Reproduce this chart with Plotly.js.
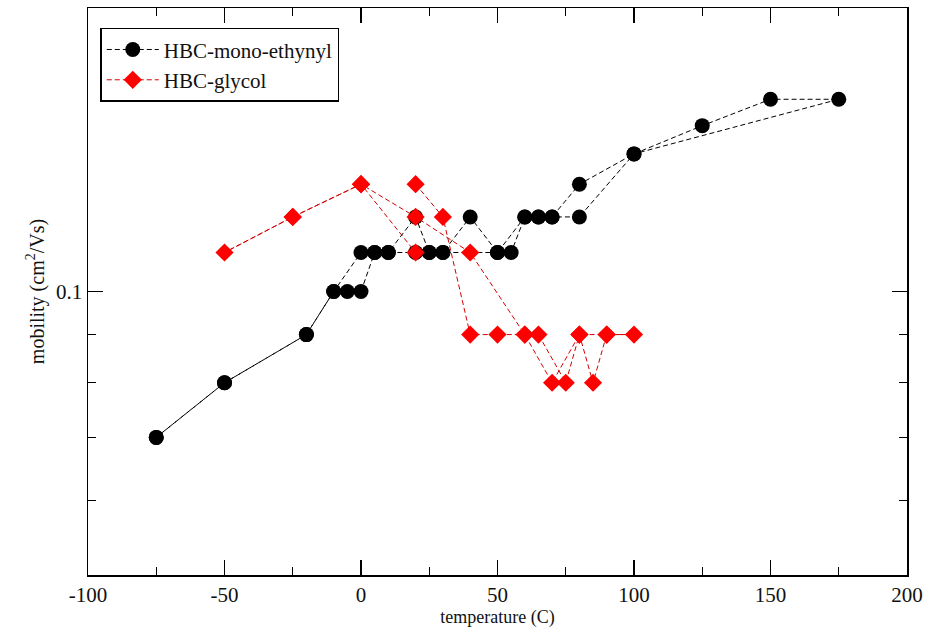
<!DOCTYPE html>
<html>
<head>
<meta charset="utf-8">
<script src="https://cdn.plot.ly/plotly-3.0.1.min.js"></script>
<style>
  html, body { margin: 0; padding: 0; background: #ffffff; }
  #chart { width: 931px; height: 632px; }
</style>
</head>
<body>
<div id="chart"></div>
<script>
// HBC-mono-ethynyl: temperature sweep (heating then cooling), temperature in C
const ethynylTemp = [-75, -50, -20, -10, 0, 5, 10, 20, 25, 30, 40, 50, 60, 65, 70, 80, 100, 125, 150, 175,
                     100, 80, 70, 65, 60, 55, 50, 30, 25, 20, 10, 5, 0, -5, -10, -20, -50, -75];
const ethynylMobility = [0.07, 0.08, 0.09, 0.10, 0.11, 0.11, 0.11, 0.12, 0.11, 0.11, 0.12, 0.11, 0.12, 0.12, 0.12, 0.13, 0.14, 0.15, 0.16, 0.16,
                         0.14, 0.12, 0.12, 0.12, 0.12, 0.11, 0.11, 0.11, 0.11, 0.11, 0.11, 0.11, 0.10, 0.10, 0.10, 0.09, 0.08, 0.07];

// HBC-glycol
const glycolTemp = [20, 30, 40, 50, 60, 65, 75, 80, 85, 90, 100, 90, 80, 70, 60, 40, 20, 0, -25, -50, -25, 0, 20];
const glycolMobility = [0.13, 0.12, 0.09, 0.09, 0.09, 0.09, 0.08, 0.09, 0.08, 0.09, 0.09, 0.09, 0.09, 0.08, 0.09, 0.11, 0.12, 0.13, 0.12, 0.11, 0.12, 0.13, 0.11];

const seriesNames = ['HBC-mono-ethynyl', 'HBC-glycol'];

const xTickVals = [-100, -50, 0, 50, 100, 150, 200];
const xTickLabels = ['-100', '-50', '0', '50', '100', '150', '200'];
const yMajorTicks = [0.1];
const yMajorLabels = ['0.1'];
const yMinorTicks = [0.06, 0.07, 0.08, 0.09];
const xRange = [-100, 200];
const yRange = [0.05, 0.2];

const serif = '"Liberation Serif", "Times New Roman", Times, serif';

const traces = [
  {
    x: ethynylTemp, y: ethynylMobility, name: seriesNames[0],
    type: 'scatter', mode: 'lines+markers',
    line: { color: '#000000', width: 1, dash: '5px,3px' },
    marker: { symbol: 'circle', size: 15, color: '#000000' }
  },
  {
    x: glycolTemp, y: glycolMobility, name: seriesNames[1],
    type: 'scatter', mode: 'lines+markers',
    line: { color: '#d40000', width: 1, dash: '5px,3px' },
    marker: { symbol: 'diamond', size: 14, color: '#ff0000' }
  }
];

const layout = {
  width: 931, height: 632,
  margin: { l: 88, r: 24, t: 8, b: 57 },
  paper_bgcolor: '#ffffff', plot_bgcolor: '#ffffff',
  showlegend: true,
  legend: {
    x: 0.015, y: 0.965, xanchor: 'left', yanchor: 'top',
    bordercolor: '#000000', borderwidth: 1.5, bgcolor: '#ffffff',
    font: { family: serif, size: 21, color: '#111111' },
    tracegroupgap: 0, itemwidth: 52
  },
  xaxis: {
    range: xRange, tickmode: 'array', tickvals: xTickVals, ticktext: xTickLabels,
    ticks: 'inside', ticklen: 15, tickwidth: 1.2, tickcolor: '#000000',
    minor: { ticks: 'inside', ticklen: 8, tickwidth: 1.2, dtick: 25, tick0: -100, tickcolor: '#000000', showgrid: false },
    showline: true, linecolor: '#000000', linewidth: 1.5, mirror: 'ticks',
    showgrid: false, zeroline: false,
    tickfont: { family: serif, size: 21, color: '#111111' },
    title: { text: 'temperature (C)', font: { family: serif, size: 18, color: '#111111' }, standoff: 4 }
  },
  yaxis: {
    type: 'log', range: [Math.log10(yRange[0]), Math.log10(yRange[1])],
    tickmode: 'array', tickvals: yMajorTicks, ticktext: yMajorLabels,
    ticks: 'inside', ticklen: 15, tickwidth: 1.2, tickcolor: '#000000',
    minor: { ticks: 'inside', ticklen: 8, tickwidth: 1.2, tickmode: 'array', tickvals: yMinorTicks, tickcolor: '#000000', showgrid: false },
    showline: true, linecolor: '#000000', linewidth: 1.5, mirror: 'ticks',
    showgrid: false, zeroline: false,
    tickfont: { family: serif, size: 21, color: '#111111' },
    title: { text: 'mobility (cm<sup>2</sup>/Vs)', font: { family: serif, size: 20, color: '#111111' }, standoff: 6 }
  }
};

Plotly.newPlot('chart', traces, layout, { staticPlot: true, displayModeBar: false });
</script>
</body>
</html>
